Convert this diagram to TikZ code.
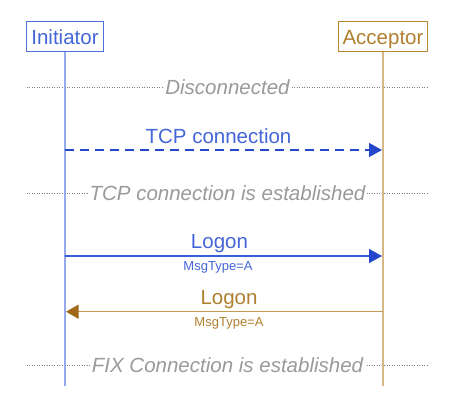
\documentclass[tikz,border=0pt]{standalone}
\usepackage{fontspec}
\setmainfont{Liberation Sans}
\usetikzlibrary{arrows.meta}
\definecolor{ibox}{HTML}{4F6FDA}
\definecolor{itext}{HTML}{4466D8}
\definecolor{iline}{HTML}{95A9EE}
\definecolor{iarrowline}{HTML}{3A5FDB}
\definecolor{iarrow}{HTML}{2447CC}
\definecolor{abox}{HTML}{B8872F}
\definecolor{atext}{HTML}{B08030}
\definecolor{aline}{HTML}{D6B886}
\definecolor{aarrowline}{HTML}{C29A55}
\definecolor{aarrow}{HTML}{A06A1A}
\definecolor{sepgrey}{HTML}{7E7E7E}
\definecolor{septext}{HTML}{9A9A9A}
\tikzset{
  actorbox/.style={draw, line width=1.5pt, inner sep=0pt, minimum height=30.4pt, text height=16.5pt, text depth=0pt, font=\fontsize{20.5}{24}\selectfont},
  lifeline/.style={line width=2.2pt},
  sepline/.style={draw=sepgrey, line width=0.8pt, dash pattern=on 1pt off 1.5pt},
  septitle/.style={fill=white, text=septext, inner xsep=2pt, inner ysep=1pt, font=\fontsize{20.5}{24}\selectfont\itshape},
  biglabel/.style={font=\fontsize{20.5}{24}\selectfont, inner sep=0pt},
  smalllabel/.style={font=\fontsize{13}{15}\selectfont, inner sep=0pt}
}
\begin{document}
\begin{tikzpicture}[x=1pt,y=-1pt]
\useasboundingbox[fill=white] (0,0) rectangle (455,418);
% separators
\foreach \n/\y/\t in {s1/87.3/Disconnected, s2/193/TCP connection is established, s3/365/FIX Connection is established}{
  \coordinate (\n L) at (26.7,\y);
  \coordinate (\n R) at (428,\y);
  \draw[sepline] (\n L) -- (\n R);
  \node[septitle] (\n T) at (227.5,\y) {\t};
}
% actors
\node[actorbox, draw=ibox, text=itext, minimum width=76.6pt] (ini) at (65,36.5) {Initiator};
\node[actorbox, draw=abox, text=atext, minimum width=89.4pt] (acc) at (383,36.5) {Acceptor};
\coordinate (iniEnd) at (65,386);
\coordinate (accEnd) at (383,386);
\draw[lifeline, draw=iline] (ini.south) -- (iniEnd);
\draw[lifeline, draw=aline] (acc.south) -- (accEnd);
% TCP connection
\coordinate (m1s) at (65,150);
\coordinate (m1e) at (382,150);
\draw[line width=1.4pt, draw=iarrow, dash pattern=on 9pt off 6pt, -{Triangle[length=13pt,width=14pt,color=iarrow]}] (m1s) -- (m1e);
\node[biglabel, text=itext] (m1l) at (218.5,136.5) {TCP connection};
% Logon 1
\coordinate (m2s) at (65,256);
\coordinate (m2e) at (382,256);
\draw[line width=1.3pt, draw=iarrowline, -{Triangle[length=13pt,width=14pt,color=iarrow]}] (m2s) -- (m2e);
\node[biglabel, text=itext] (m2l) at (219.5,243.5) {Logon};
\node[smalllabel, text=itext] (m2m) at (218,267.5) {MsgType=A};
% Logon 2
\coordinate (m3s) at (383,311.7);
\coordinate (m3e) at (66,311.7);
\draw[line width=1.3pt, draw=aarrowline, -{Triangle[length=12.5pt,width=14pt,color=aarrow]}] (m3s) -- (m3e);
\node[biglabel, text=atext] (m3l) at (229,299.5) {Logon};
\node[smalllabel, text=atext] (m3m) at (229,323) {MsgType=A};
\end{tikzpicture}
\end{document}
